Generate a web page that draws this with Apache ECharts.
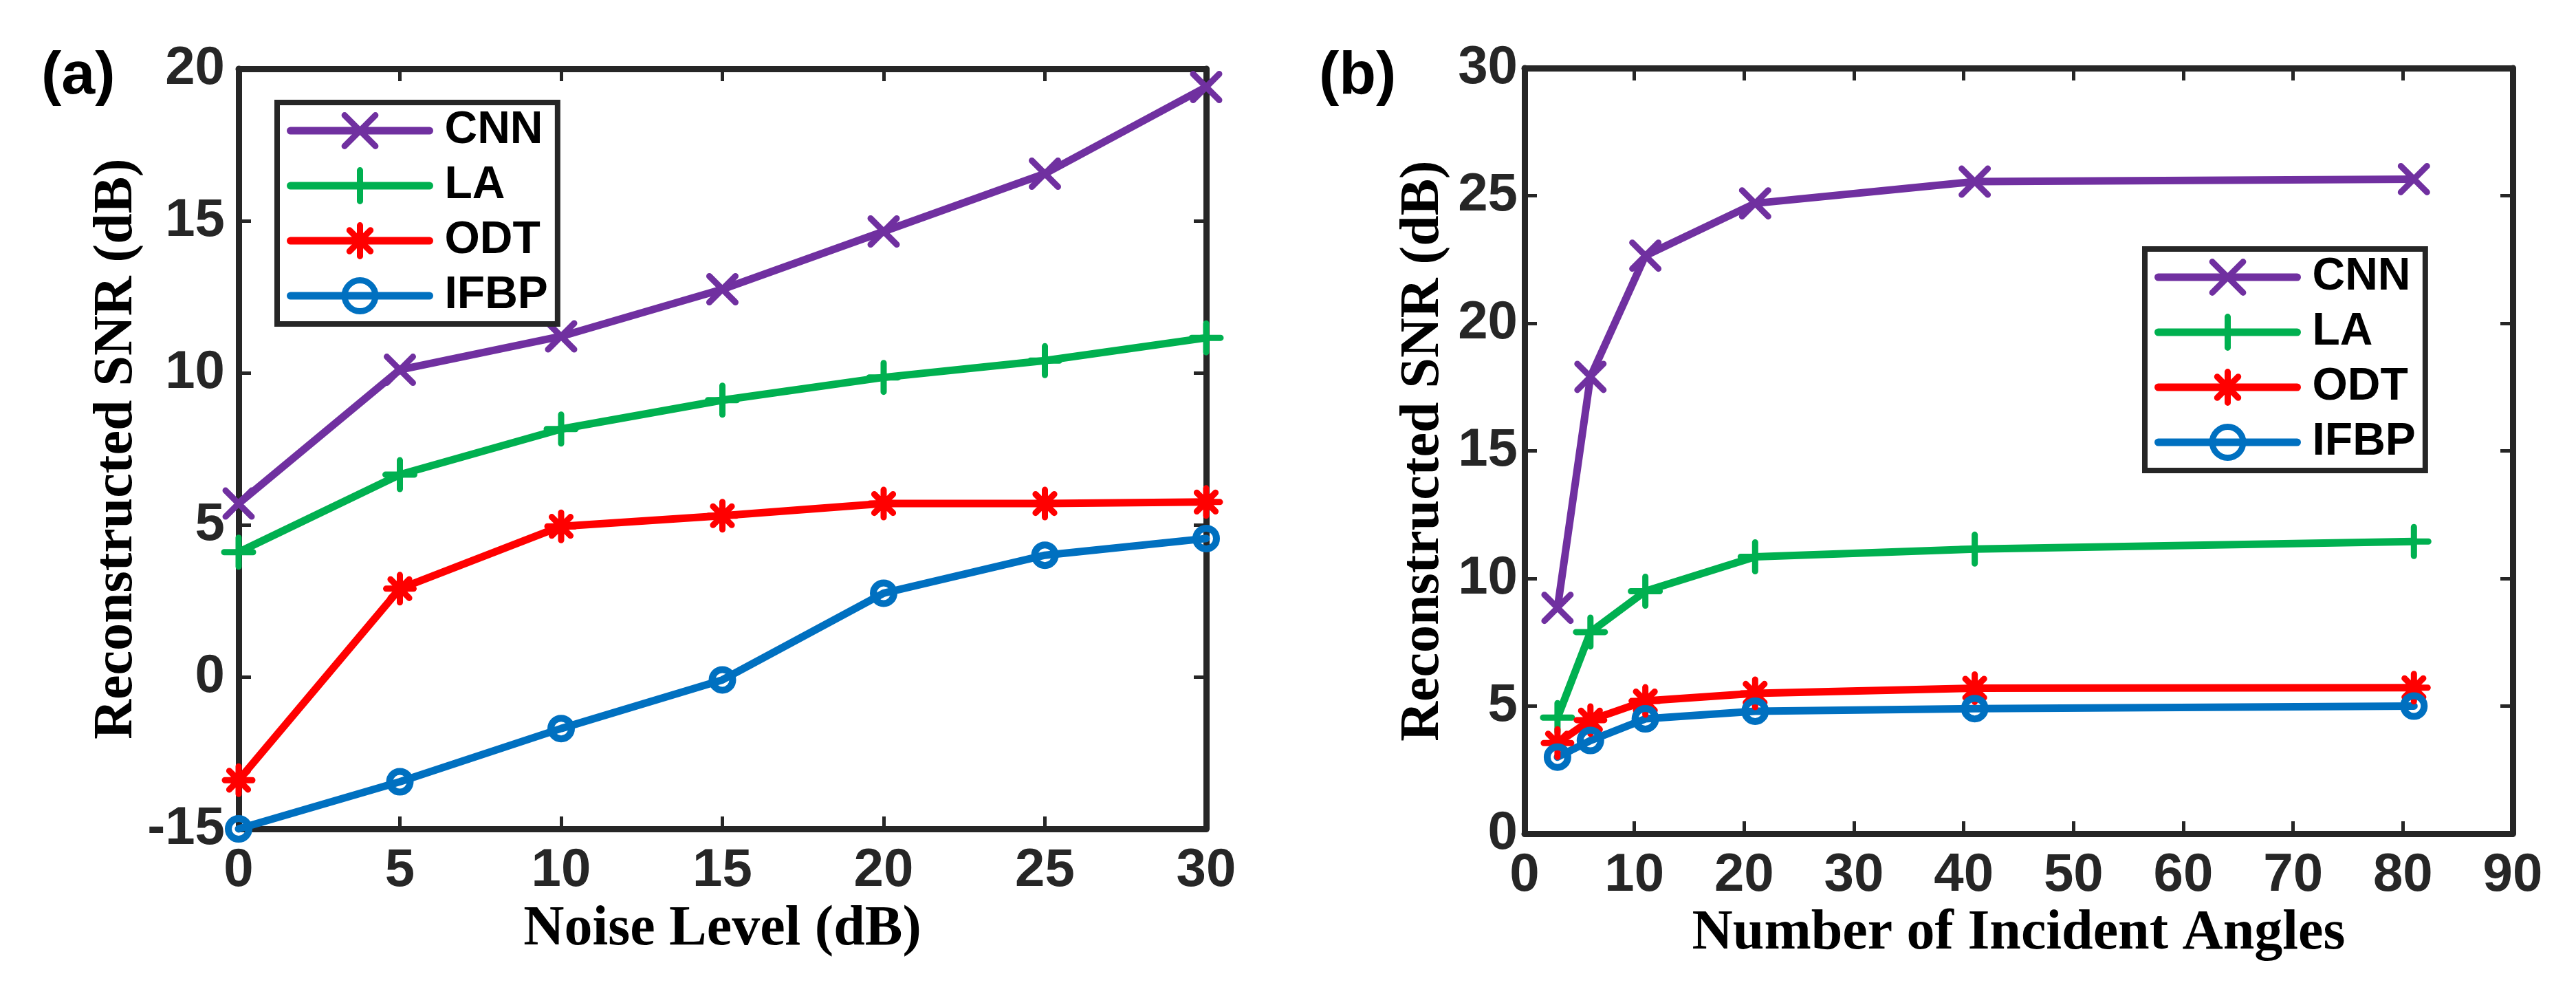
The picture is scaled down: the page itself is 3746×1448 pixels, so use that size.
<!DOCTYPE html>
<html><head><meta charset="utf-8">
<script src="https://cdn.jsdelivr.net/npm/echarts@6/dist/echarts.min.js"></script>
<style>html,body{margin:0;padding:0;background:#fff}#c{width:3746px;height:1448px}</style>
</head><body><div id="c"></div>
<script>
// ---------- data ----------
const seriesNames = ['CNN', 'LA', 'ODT', 'IFBP'];
// panel (a)
const noiseLevels = [0, 5, 10, 15, 20, 25, 30];
const cnnA  = [5.7, 10.1, 11.2, 12.75, 14.65, 16.55, 19.4];
const laA   = [4.1, 6.65, 8.15, 9.1, 9.85, 10.4, 11.15];
const odtA  = [-3.4, 2.9, 4.95, 5.3, 5.7, 5.7, 5.75];
const ifbpA = [-5, -3.45, -1.7, -0.1, 2.75, 4.0, 4.55];
const yTickValuesA = [-5, 0, 5, 10, 15, 20];
const yTickLabelsA = ['-15', '0', '5', '10', '15', '20'];
// panel (b)
const angleCounts = [3, 6, 11, 21, 41, 81];
const cnnB  = [8.85, 17.9, 22.65, 24.7, 25.55, 25.65];
const laB   = [4.55, 7.9, 9.5, 10.85, 11.15, 11.45];
const odtB  = [3.55, 4.45, 5.2, 5.5, 5.7, 5.72];
const ifbpB = [3.0, 3.65, 4.5, 4.8, 4.9, 5.0];

const xTitleA = 'Noise Level (dB)';
const xTitleB = 'Number of Incident Angles';
const yTitle = 'Reconstructed SNR (dB)';

// ---------- styling ----------
const colors = ['#7030A0', '#00B050', '#FF0000', '#0070C0'];
const symbols = [
  'path://M0,0L10,10M10,0L0,10',
  'path://M5,0L5,10M0,5L10,5',
  'path://M5,0L5,10M0,5L10,5M1.6,1.6L8.4,8.4M8.4,1.6L1.6,8.4',
  'circle'
];
const symbolSizes = [38, 42, 40, 30];
const AX = '#262626';
const SANS = '"Liberation Sans", Arial, sans-serif';
const SERIF = '"Liberation Serif", "Times New Roman", serif';

function zip(xs, ys) { return xs.map((x, i) => [x, ys[i]]); }

function mkX(grid, min, max, interval, pos, name, gap) {
  return {
    gridIndex: grid, type: 'value', min, max, interval, position: pos,
    axisLine: { show: true, onZero: false, lineStyle: { color: AX, width: 9 } },
    axisTick: { show: true, inside: true, length: 18, lineStyle: { color: AX, width: 5 } },
    axisLabel: { show: pos === 'bottom', margin: 22, color: AX, fontSize: 78, fontWeight: 'bold', fontFamily: SANS },
    splitLine: { show: false },
    name: pos === 'bottom' ? name : '', nameLocation: 'middle', nameGap: gap,
    nameTextStyle: { fontSize: 82, fontWeight: 'bold', fontFamily: SERIF, color: '#000' }
  };
}
function mkY(grid, min, max, interval, pos, name, gap, margin, fmt) {
  return {
    gridIndex: grid, type: 'value', min, max, interval, position: pos,
    axisLine: { show: true, onZero: false, lineStyle: { color: AX, width: 9 } },
    axisTick: { show: true, inside: true, length: 18, lineStyle: { color: AX, width: 5 } },
    axisLabel: { show: pos === 'left', margin: margin, color: AX, fontSize: 78, fontWeight: 'bold', fontFamily: SANS, formatter: fmt },
    splitLine: { show: false },
    name: pos === 'left' ? name : '', nameLocation: 'middle', nameGap: gap, nameRotate: 90,
    nameTextStyle: { fontSize: 80, fontWeight: 'bold', fontFamily: SERIF, color: '#000' }
  };
}

function mkSeries(i, xi, yi, data) {
  const isCircle = symbols[i] === 'circle';
  return {
    name: seriesNames[i], type: 'line', xAxisIndex: xi, yAxisIndex: yi,
    data: data, clip: false, symbol: symbols[i], symbolSize: symbolSizes[i], showSymbol: true,
    lineStyle: { color: colors[i], width: 11, cap: 'round', join: 'round' },
    itemStyle: { color: isCircle ? 'rgba(255,255,255,0)' : colors[i], borderColor: colors[i], borderWidth: isCircle ? 10 : 9, borderCap: 'round' },
    emphasis: { disabled: true }, animation: false, z: 3
  };
}

function mkLegend(left, top) {
  return {
    data: seriesNames, left: left, top: top, orient: 'vertical',
    padding: [8, 14, 8, 14], itemGap: 14, itemWidth: 202, itemHeight: 56,
    borderColor: AX, borderWidth: 8, backgroundColor: '#fff',
    textStyle: { fontSize: 66, fontWeight: 'bold', fontFamily: SANS, color: '#000', padding: [0, 0, 0, 17] },
    lineStyle: { width: 11 }, itemStyle: { borderWidth: 9 },
    selectedMode: false
  };
}

const fmtA = v => { const k = yTickValuesA.indexOf(v); return k >= 0 ? yTickLabelsA[k] : ''; };

const option = {
  backgroundColor: '#fff',
  animation: false,
  grid: [
    { left: 347, top: 100, width: 1407, height: 1105 },
    { left: 2217, top: 99, width: 1437, height: 1113 }
  ],
  xAxis: [
    mkX(0, 0, 30, 5, 'bottom', xTitleA, 106),
    mkX(0, 0, 30, 5, 'top', '', 0),
    mkX(1, 0, 90, 10, 'bottom', xTitleB, 100),
    mkX(1, 0, 90, 10, 'top', '', 0)
  ],
  yAxis: [
    mkY(0, -5, 20, 5, 'left', yTitle, 112, 20, fmtA),
    mkY(0, -5, 20, 5, 'right', '', 0, 0),
    mkY(1, 0, 30, 5, 'left', yTitle, 107, 10),
    mkY(1, 0, 30, 5, 'right', '', 0, 0)
  ],
  legend: [mkLegend(403, 149), mkLegend(3119, 362)],
  graphic: [
    { type: 'text', left: 60, top: 68, style: { text: '(a)', fontSize: 88, fontWeight: 'bold', fontFamily: SANS, fill: '#000' } },
    { type: 'text', left: 1918, top: 68, style: { text: '(b)', fontSize: 88, fontWeight: 'bold', fontFamily: SANS, fill: '#000' } }
  ],
  series: [
    mkSeries(0, 0, 0, zip(noiseLevels, cnnA)),
    mkSeries(1, 0, 0, zip(noiseLevels, laA)),
    mkSeries(2, 0, 0, zip(noiseLevels, odtA)),
    mkSeries(3, 0, 0, zip(noiseLevels, ifbpA)),
    mkSeries(0, 2, 2, zip(angleCounts, cnnB)),
    mkSeries(1, 2, 2, zip(angleCounts, laB)),
    mkSeries(2, 2, 2, zip(angleCounts, odtB)),
    mkSeries(3, 2, 2, zip(angleCounts, ifbpB))
  ]
};
const chart = echarts.init(document.getElementById('c'), null, { renderer: 'canvas' });
chart.setOption(option);
</script>
</body></html>
